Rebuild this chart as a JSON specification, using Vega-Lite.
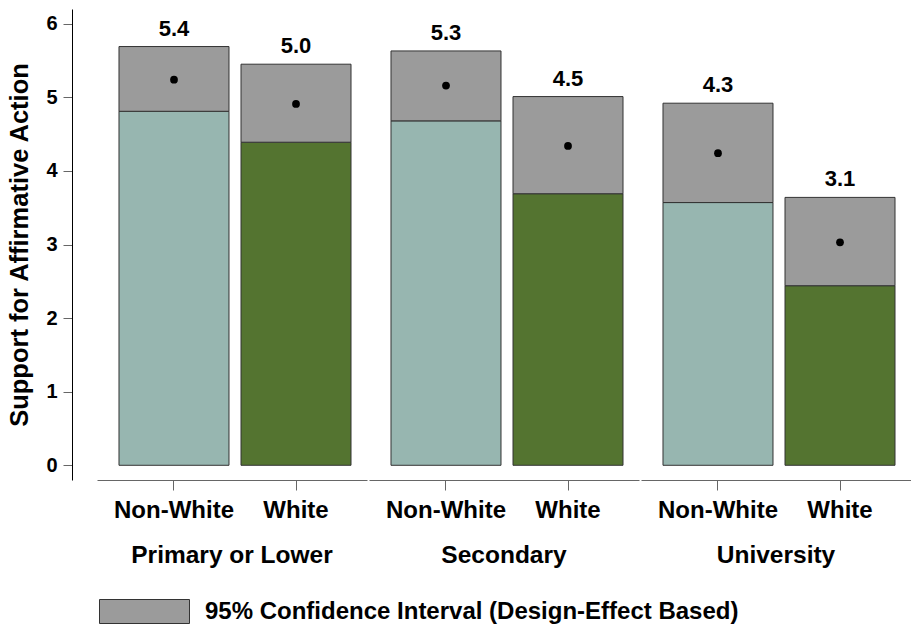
{
  "$schema": "https://vega.github.io/schema/vega-lite/v6.json",
  "padding": {"left": 7, "top": 9, "right": 0, "bottom": 0},
  "background": "white",
  "data": {
    "values": [
      {"edu": "Primary or Lower", "race": "Non-White", "mean": 5.24, "lo": 4.81, "hi": 5.69, "label": "5.4"},
      {"edu": "Primary or Lower", "race": "White", "mean": 4.91, "lo": 4.39, "hi": 5.45, "label": "5.0"},
      {"edu": "Secondary", "race": "Non-White", "mean": 5.16, "lo": 4.68, "hi": 5.63, "label": "5.3"},
      {"edu": "Secondary", "race": "White", "mean": 4.34, "lo": 3.69, "hi": 5.01, "label": "4.5"},
      {"edu": "University", "race": "Non-White", "mean": 4.24, "lo": 3.57, "hi": 4.92, "label": "4.3"},
      {"edu": "University", "race": "White", "mean": 3.03, "lo": 2.44, "hi": 3.64, "label": "3.1"}
    ]
  },
  "spacing": 2,
  "facet": {
    "column": {
      "field": "edu",
      "type": "nominal",
      "sort": ["Primary or Lower", "Secondary", "University"],
      "header": {
        "title": null,
        "labelOrient": "bottom",
        "labelFontSize": 24.5,
        "labelFont": "Liberation Sans",
        "labelFontWeight": "bold",
        "labelColor": "black",
        "labelPadding": 22
      }
    }
  },
  "spec": {
    "width": 270,
    "height": 471,
    "encoding": {
      "x": {
        "field": "race",
        "type": "nominal",
        "title": null,
        "scale": {"paddingInner": 0.0984, "paddingOuter": 0.1557, "align": 0.579},
        "axis": {"labelAngle": 0}
      }
    },
    "layer": [
      {
        "mark": {"type": "bar", "stroke": "#333333", "strokeWidth": 1},
        "encoding": {
          "y": {
            "field": "lo",
            "type": "quantitative",
            "title": "Support for Affirmative Action",
            "scale": {"domain": [-0.2, 6.2], "nice": false, "zero": false},
            "axis": {"values": [0, 1, 2, 3, 4, 5, 6], "format": "d"}
          },
          "y2": {"datum": 0},
          "fill": {"condition": {"test": "datum.race === 'White'", "value": "#547430"}, "value": "#97b6b0"}
        }
      },
      {
        "mark": {"type": "bar", "stroke": "#333333", "strokeWidth": 1},
        "encoding": {
          "y": {"field": "hi", "type": "quantitative", "title": "Support for Affirmative Action", "axis": {"values": [0, 1, 2, 3, 4, 5, 6], "format": "d"}},
          "y2": {"field": "lo"},
          "color": {
            "datum": "95% Confidence Interval (Design-Effect Based)",
            "type": "nominal",
            "scale": {"range": ["#9b9b9b"]},
            "legend": {"title": null}
          }
        }
      },
      {
        "mark": {"type": "circle", "color": "black", "size": 60, "opacity": 1},
        "encoding": {
          "y": {"field": "mean", "type": "quantitative", "title": "Support for Affirmative Action", "axis": {"values": [0, 1, 2, 3, 4, 5, 6], "format": "d"}}
        }
      },
      {
        "mark": {"type": "text", "baseline": "alphabetic", "dy": -11, "fontSize": 22, "font": "Liberation Sans", "fontWeight": "bold", "color": "black"},
        "encoding": {
          "y": {"field": "hi", "type": "quantitative", "title": "Support for Affirmative Action", "axis": {"values": [0, 1, 2, 3, 4, 5, 6], "format": "d"}},
          "text": {"field": "label"}
        }
      }
    ]
  },
  "config": {
    "view": {"stroke": null},
    "font": "Liberation Sans",
    "axisX": {
      "domainColor": "#666666",
      "tickColor": "#666666",
      "tickSize": 10,
      "labelFontSize": 24,
      "labelFontWeight": "bold",
      "labelColor": "black",
      "labelPadding": 8,
      "grid": false
    },
    "axisY": {
      "domainColor": "black",
      "tickColor": "#666666",
      "tickSize": 9,
      "offset": 25,
      "labelFontSize": 20,
      "labelFontWeight": "bold",
      "labelColor": "black",
      "labelPadding": 6,
      "titleFontSize": 25.5,
      "titleFontWeight": "bold",
      "titleColor": "black",
      "titlePadding": 13,
      "grid": false
    },
    "legend": {
      "orient": "none",
      "legendX": 32,
      "legendY": 587,
      "symbolType": "M-3,-0.8H3V0.8H-3Z",
      "symbolSize": 900,
      "symbolStrokeColor": "#333333",
      "symbolStrokeWidth": 1,
      "symbolOpacity": 1,
      "labelFontSize": 24,
      "labelFontWeight": "bold",
      "labelColor": "black",
      "labelOffset": 45,
      "labelLimit": 800
    }
  }
}
